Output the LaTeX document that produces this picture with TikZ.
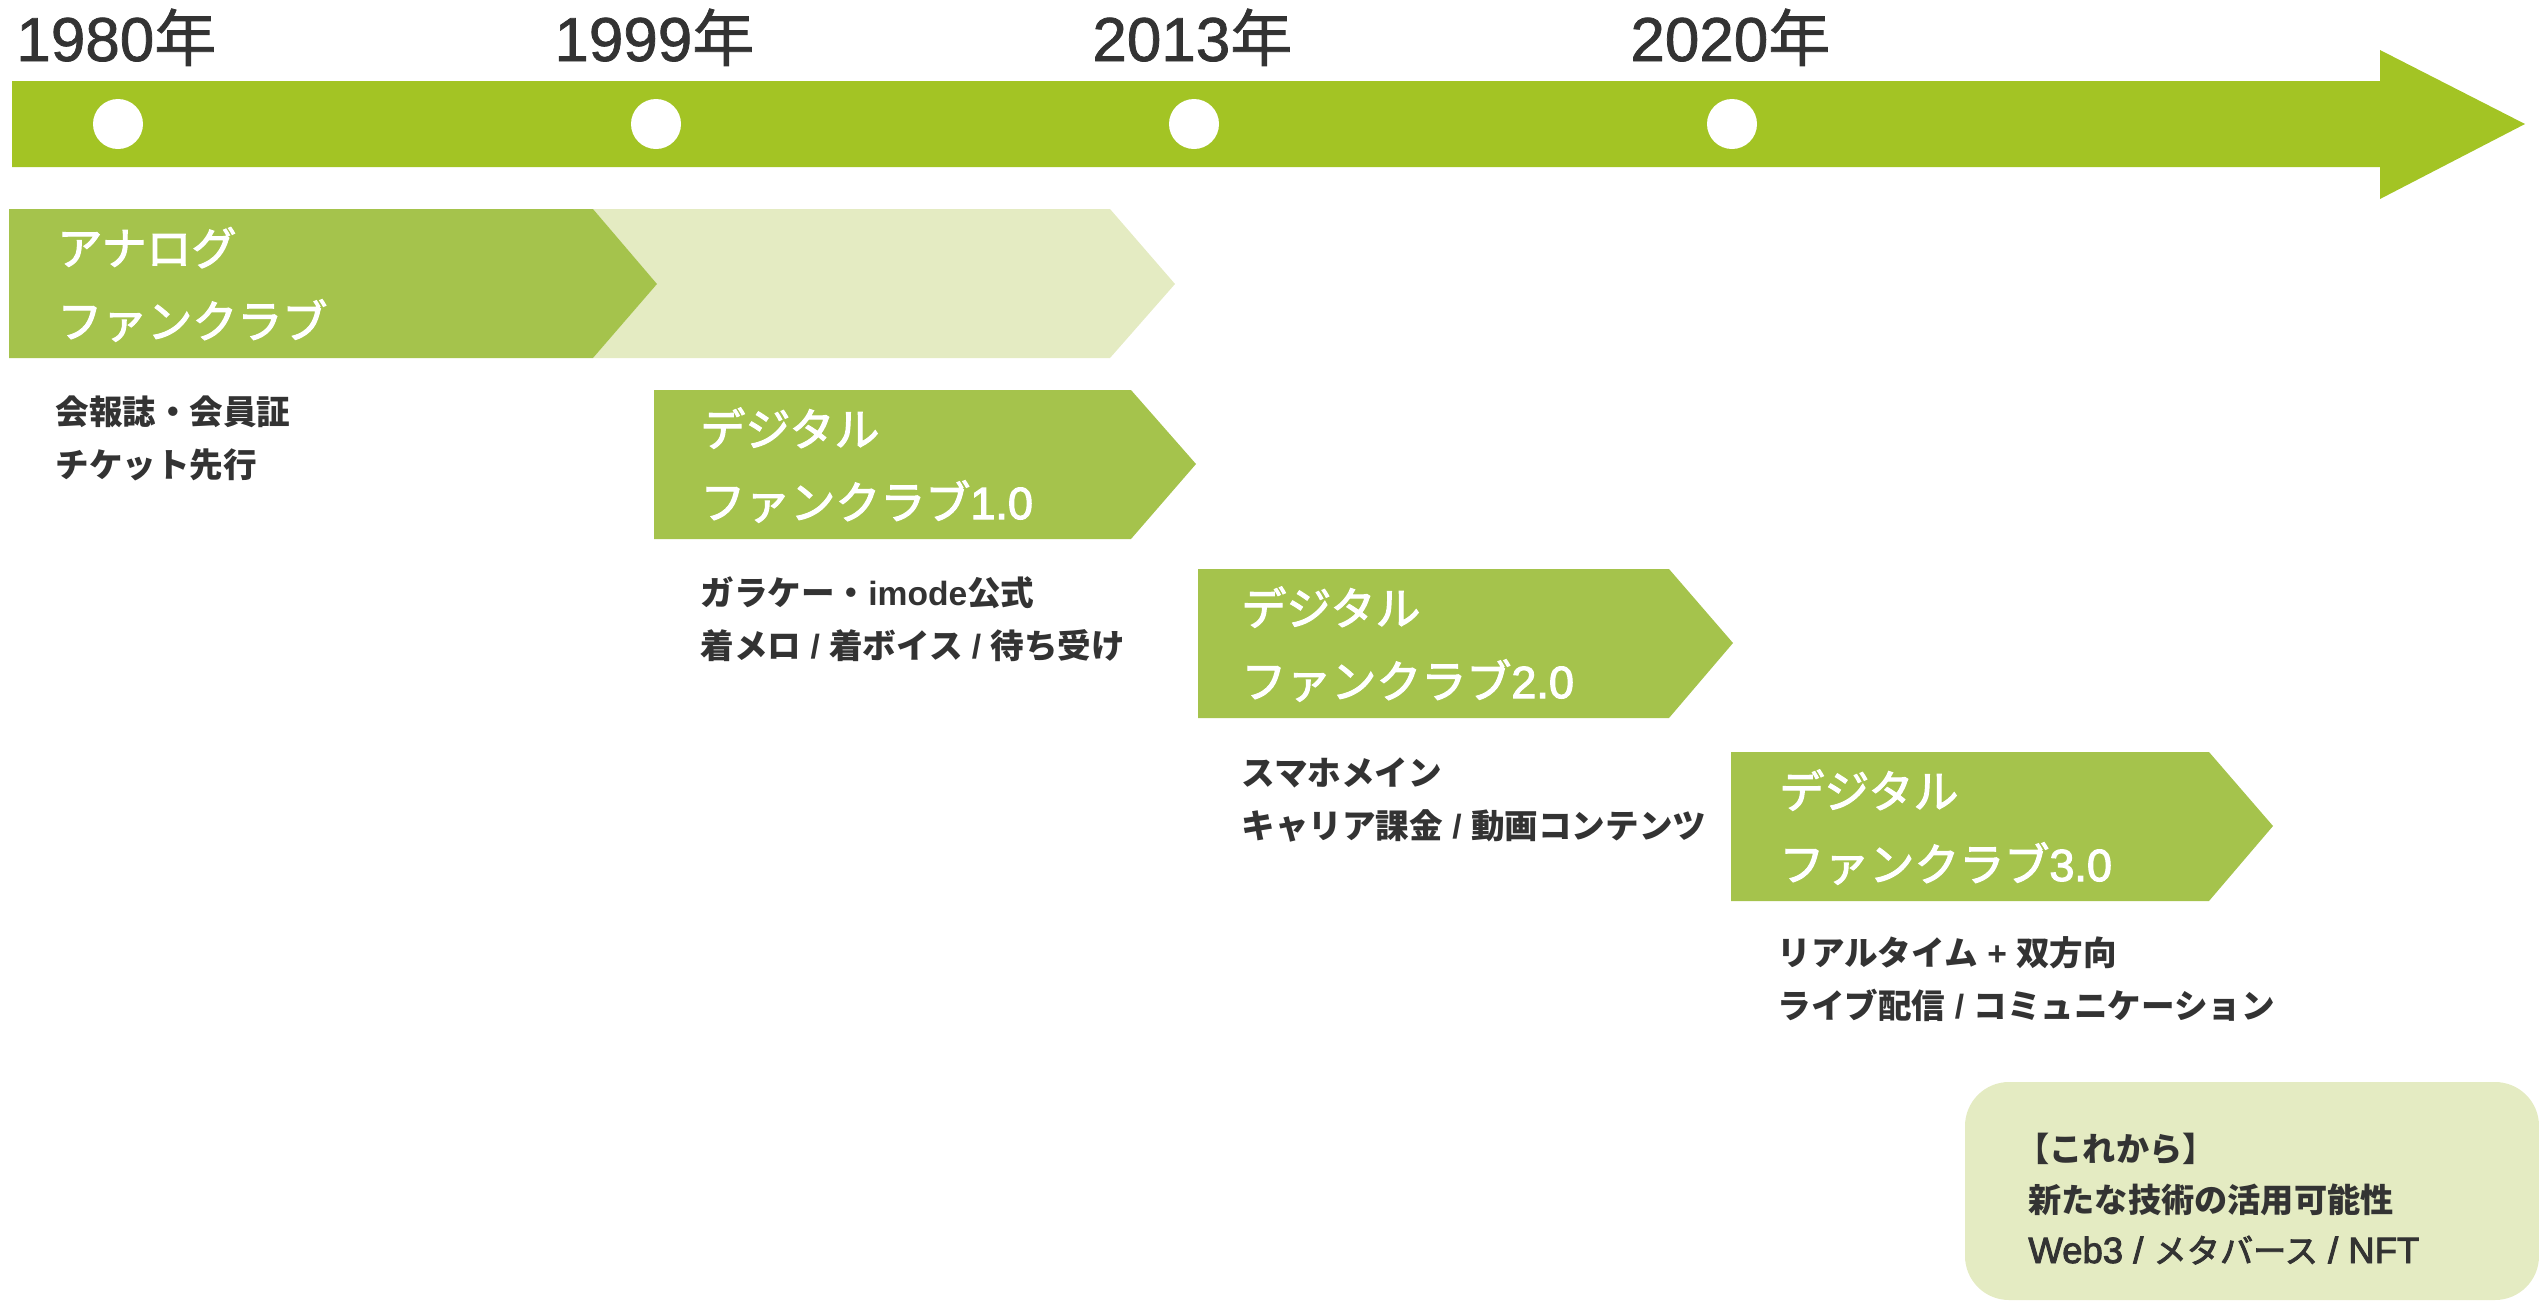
\documentclass[tikz,border=0pt]{standalone}
\usepackage{fontspec}
\newfontfamily\jp{Noto Sans CJK JP}
\newfontfamily\jpm[FakeBold=2.5]{Noto Sans CJK JP}
\newfontfamily\jpy[FakeBold=1.2]{Noto Sans CJK JP}
\newfontfamily\lat{Liberation Sans}
\newfontfamily\latm[FakeBold=2.5]{Liberation Sans}
\newfontfamily\laty[FakeBold=1.2]{Liberation Sans}
\newfontfamily\latb[FakeBold=2.5,Scale=1.1]{Liberation Sans}
\newcommand\lt[1]{{\lat #1}}
\newcommand\ltm[1]{{\latm #1}}
\newcommand\lty[1]{{\laty #1}}
\newcommand\ltb[1]{{\latb #1}}
\definecolor{bargreen}{HTML}{A3C424}
\definecolor{bandgreen}{HTML}{A5C34C}
\definecolor{lightgreen}{HTML}{E4EBC2}
\definecolor{txtdark}{HTML}{333333}
\tikzset{
  year/.style={anchor=base west, inner sep=0pt, text=txtdark, font=\jpy\fontsize{31pt}{31pt}\selectfont},
  bandtxt/.style={anchor=base west, inner sep=0pt, text=white, font=\jpm\fontsize{22.5pt}{22.5pt}\selectfont},
  subtxt/.style={anchor=base west, inner sep=0pt, text=txtdark, font=\jp\bfseries\fontsize{16.8pt}{16.8pt}\selectfont},
  boxtxt/.style={anchor=base west, inner sep=0pt, text=txtdark, font=\jp\bfseries\fontsize{16.6pt}{16.6pt}\selectfont},
  boxtxtm/.style={anchor=base west, inner sep=0pt, text=txtdark, font=\jpm\mdseries\fontsize{16.6pt}{16.6pt}\selectfont},
  dot/.style={circle, fill=white, draw=none, minimum size=25pt, inner sep=0pt},
}
\begin{document}
\begin{tikzpicture}[x=0.5pt,y=-0.5pt]
\useasboundingbox (0,0) rectangle (2539,1302);
% timeline arrow
\fill[bargreen] (12,81) -- (2380,81) -- (2380,50) -- (2525,124) -- (2380,199) -- (2380,167) -- (12,167) -- cycle;
\foreach \x/\n in {118/a,656/b,1194/c,1732/d} {
  \node[dot] (dot\n) at (\x,124) {};
}
\node[year] (y1980) at (16,61) {\lty{1980}年};
\node[year] (y1999) at (554,61) {\lty{1999}年};
\node[year] (y2013) at (1092,61) {\lty{2013}年};
\node[year] (y2020) at (1630,61) {\lty{2020}年};
% analog band
\fill[lightgreen] (593,209) -- (1110,209) -- (1175,284) -- (1110,358) -- (593,358) -- (657,284) -- cycle;
\fill[bandgreen] (9,209) -- (593,209) -- (657,284) -- (593,358) -- (9,358) -- cycle;
\node[bandtxt] (an1) at (57,265) {アナログ};
\node[bandtxt] (an2) at (57,338) {ファンクラブ};
\node[subtxt] (as1) at (55,424) {会報誌・会員証};
\node[subtxt] (as2) at (55,477) {チケット先行};
% digital 1.0
\fill[bandgreen] (654,390) -- (1131,390) -- (1196,464) -- (1131,539) -- (654,539) -- cycle;
\node[bandtxt] (d1a) at (700,446) {デジタル};
\node[bandtxt] (d1b) at (700,519) {ファンクラブ\ltm{1.0}};
\node[subtxt] (s1a) at (700,605) {ガラケー・\lt{imode}公式};
\node[subtxt] (s1b) at (700,658) {着メロ\lt{ / }着ボイス\lt{ / }待ち受け};
% digital 2.0
\fill[bandgreen] (1198,569) -- (1669,569) -- (1733,643) -- (1669,718) -- (1198,718) -- cycle;
\node[bandtxt] (d2a) at (1241,625) {デジタル};
\node[bandtxt] (d2b) at (1241,698) {ファンクラブ\ltm{2.0}};
\node[subtxt] (s2a) at (1241,785) {スマホメイン};
\node[subtxt] (s2b) at (1241,838) {キャリア課金\lt{ / }動画コンテンツ};
% digital 3.0
\fill[bandgreen] (1731,752) -- (2209,752) -- (2273,826) -- (2209,901) -- (1731,901) -- cycle;
\node[bandtxt] (d3a) at (1779,808) {デジタル};
\node[bandtxt] (d3b) at (1779,881) {ファンクラブ\ltm{3.0}};
\node[subtxt] (s3a) at (1777,965) {リアルタイム\lt{ + }双方向};
\node[subtxt] (s3b) at (1777,1018) {ライブ配信\lt{ / }コミュニケーション};
% future box
\fill[lightgreen, rounded corners=22pt] (1965,1082) rectangle (2539,1300);
\node[boxtxt] (f1) at (2016,1161) {【これから】};
\node[boxtxt] (f2) at (2028,1212) {新たな技術の活用可能性};
\node[boxtxtm] (f3) at (2028,1263) {\ltb{Web3 / }メタバース\ltb{ / NFT}};
\end{tikzpicture}
\end{document}
